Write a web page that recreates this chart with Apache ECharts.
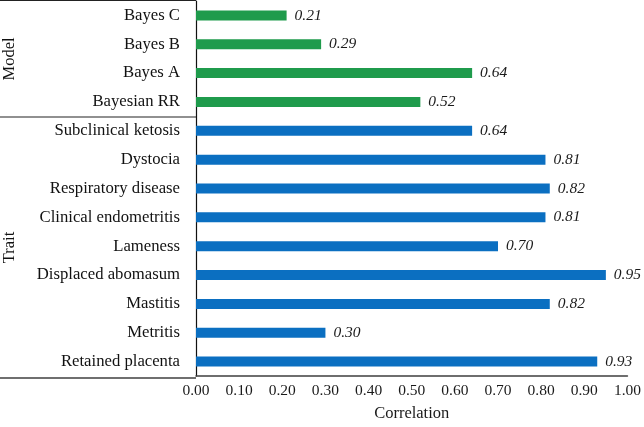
<!DOCTYPE html>
<html><head><meta charset="utf-8">
<script src="https://cdn.jsdelivr.net/npm/echarts@6/dist/echarts.min.js"></script>
<style>html,body{margin:0;padding:0;background:#fff}#c{width:644px;height:427px}</style>
</head><body><div id="c"></div>
<script>
const categories = ["Bayes C","Bayes B","Bayes A","Bayesian RR","Subclinical ketosis","Dystocia","Respiratory disease","Clinical endometritis","Lameness","Displaced abomasum","Mastitis","Metritis","Retained placenta"];
const values = [0.21,0.29,0.64,0.52,0.64,0.81,0.82,0.81,0.70,0.95,0.82,0.30,0.93];
const groups = ["Model","Model","Model","Model","Trait","Trait","Trait","Trait","Trait","Trait","Trait","Trait","Trait"];
const groupNames = ["Model","Trait"];
const xTicks = [0,0.1,0.2,0.3,0.4,0.5,0.6,0.7,0.8,0.9,1.0];
const groupColors = {Model:"#1f9b4c", Trait:"#0b6fc1"};

const FONT = "Liberation Serif, Times New Roman, serif";
const chart = echarts.init(document.getElementById('c'));
const G = {left:196, top:1, right:14, bottom:49};
chart.setOption({
  animation:false,
  grid:{left:G.left, top:G.top, right:G.right, bottom:G.bottom, containLabel:false},
  xAxis:{type:'value', min:xTicks[0], max:xTicks[xTicks.length-1], interval:0.1,
    axisLine:{show:true, lineStyle:{color:'#3f3f3f', width:1.5}},
    axisTick:{show:false}, splitLine:{show:false},
    axisLabel:{fontFamily:FONT, fontSize:15.5, color:'#1a1a1a', margin:7, formatter:v=>v.toFixed(2)},
    name:'Correlation', nameLocation:'middle', nameGap:29,
    nameTextStyle:{fontFamily:FONT, fontSize:16.5, color:'#1a1a1a'}},
  yAxis:{type:'category', data:categories, inverse:true,
    axisLine:{show:true, lineStyle:{color:'#111', width:1.2}},
    axisTick:{show:false},
    axisLabel:{fontFamily:FONT, fontSize:16.7, color:'#111', margin:16}},
  series:[{type:'bar', barWidth:10,
    data: values.map((v,i)=>({value:v, itemStyle:{color:groupColors[groups[i]]}})),
    label:{show:true, position:'right', distance:8, fontFamily:FONT, fontStyle:'italic', fontSize:15.5, color:'#1a1a1a',
      formatter:p=>p.value.toFixed(2)}
  }]
});

// decorative group box
const W = 644, H = 427;
const plotH = H - G.top - G.bottom;
const band = plotH / categories.length;
const graphics = [];
const lineStyle = {stroke:'#222', lineWidth:1.2};
graphics.push({type:'line', shape:{x1:0, y1:0.5, x2:G.left, y2:0.5}, style:lineStyle});
graphics.push({type:'line', shape:{x1:0, y1:H-G.bottom, x2:G.left, y2:H-G.bottom}, style:{stroke:'#3f3f3f', lineWidth:1.5}});
let start = 0;
groupNames.forEach((g, gi) => {
  const n = groups.filter(x=>x===g).length;
  const y0 = G.top + start*band, y1 = G.top + (start+n)*band;
  if (gi > 0) graphics.push({type:'line', shape:{x1:0, y1:y0, x2:G.left, y2:y0}, style:lineStyle});
  graphics.push({type:'text', x:10, y:(y0+y1)/2, rotation:Math.PI/2,
    style:{text:g, fontFamily:FONT, fontSize:16.5, fill:'#111', align:'center', verticalAlign:'middle'}});
  start += n;
});
chart.setOption({graphic:graphics});
</script></body></html>
